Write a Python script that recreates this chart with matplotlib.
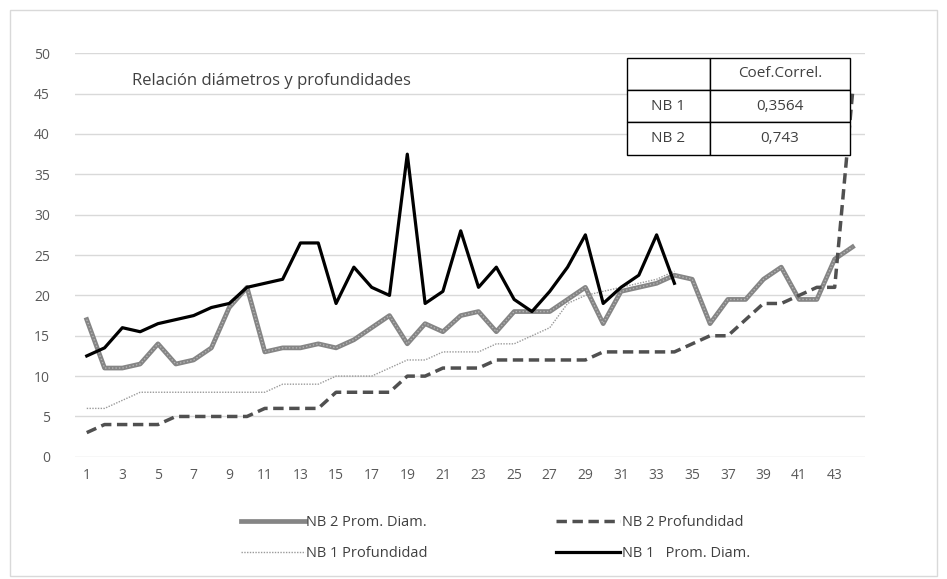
import matplotlib
matplotlib.use("Agg")
import matplotlib.pyplot as plt
from matplotlib.patches import Rectangle

plt.rcParams['font.family'] = ['Open Sans', 'DejaVu Sans']

# data
x_nb1 = list(range(1, 35))
x_nb2 = list(range(1, 45))

nb1_diam = [12.5, 13.5, 16, 15.5, 16.5, 17, 17.5, 18.5, 19, 21,
            21.5, 22, 26.5, 26.5, 19, 23.5, 21, 20, 37.5, 19,
            20.5, 28, 21, 23.5, 19.5, 18, 20.5, 23.5, 27.5, 19,
            21, 22.5, 27.5, 21.5]
nb1_prof = [6, 6, 7, 8, 8, 8, 8, 8, 8, 8,
            8, 9, 9, 9, 10, 10, 10, 11, 12, 12,
            13, 13, 13, 14, 14, 15, 16, 19, 20, 20.5,
            21, 21.5, 22, 23]
nb2_diam = [17, 11, 11, 11.5, 14, 11.5, 12, 13.5, 18.5, 21,
            13, 13.5, 13.5, 14, 13.5, 14.5, 16, 17.5, 14, 16.5,
            15.5, 17.5, 18, 15.5, 18, 18, 18, 19.5, 21, 16.5,
            20.5, 21, 21.5, 22.5, 22, 16.5, 19.5, 19.5, 22, 23.5,
            19.5, 19.5, 24.5, 26]
nb2_prof = [3, 4, 4, 4, 4, 5, 5, 5, 5, 5,
            6, 6, 6, 6, 8, 8, 8, 8, 10, 10,
            11, 11, 11, 12, 12, 12, 12, 12, 12, 13,
            13, 13, 13, 13, 14, 15, 15, 17, 19, 19,
            20, 21, 21, 45]

labels = ['NB 2 Prom. Diam.', 'NB 1 Profundidad', 'NB 2 Profundidad', 'NB 1   Prom. Diam.']
table_rows = [['', 'Coef.Correl.'], ['NB 1', '0,3564'], ['NB 2', '0,743']]

txt = '#404040'

fig = plt.figure(figsize=(9.47, 5.79), dpi=100)
ax = fig.add_axes([0.079, 0.211, 0.834, 0.697])

l_nb2d, = ax.plot(x_nb2, nb2_diam, color='#858585', lw=3.4, zorder=3)
ax.plot(x_nb2, nb2_diam, color='#b5b5b5', lw=1.0, ls=(0, (1, 1.5)), zorder=3)
l_nb1p, = ax.plot(x_nb1, nb1_prof, color='#9a9a9a', lw=1.0, ls=(0, (1, 1)), zorder=2)
l_nb2p, = ax.plot(x_nb2, nb2_prof, color='#505050', lw=2.5, ls=(0, (3, 1.6)), zorder=3)
l_nb1d, = ax.plot(x_nb1, nb1_diam, color='#000000', lw=2.3, zorder=4)

ax.set_xlim(0.33, 44.68)
ax.set_ylim(0, 50)
ax.set_yticks(range(0, 51, 5))
ax.set_xticks(range(1, 44, 2))
ax.grid(axis='y', color='#d9d9d9', lw=1)
ax.set_axisbelow(True)
for s in ax.spines.values():
    s.set_visible(False)
ax.tick_params(length=0, colors='#595959', labelsize=10, pad=8)
ax.tick_params(axis='y', pad=18)

ax.text(3.55, 46.6, 'Relación diámetros y profundidades', fontsize=12, color=txt, va='center')

# correlation table drawn in figure pixels
col_x = [627, 710, 850]
row_y = [58, 90, 122, 155]
H = 579
for r, row in enumerate(table_rows):
    for c, val in enumerate(row):
        x0, x1 = col_x[c], col_x[c + 1]
        y0, y1 = row_y[r], row_y[r + 1]
        fig.patches.append(Rectangle((x0 / 947, 1 - y1 / H), (x1 - x0) / 947, (y1 - y0) / H,
                                     transform=fig.transFigure, fill=True, fc='white',
                                     ec='black', lw=1, zorder=5))
        fig.text((x0 + x1) / 2 / 947, 1 - (y0 + y1) / 2 / H, val, ha='center', va='center',
                 fontsize=11, color=txt, zorder=6)

leg = fig.legend([l_nb2d, l_nb1p, l_nb2p, l_nb1d], labels, ncol=2, loc='lower center',
                 bbox_to_anchor=(0.523, 0.008), frameon=False, fontsize=10.5,
                 handlelength=4.4, handletextpad=0.1, columnspacing=8.8, labelspacing=1.1,
                 labelcolor=txt)

fig.patches.append(Rectangle((0.011, 0.005), 0.978, 0.978, transform=fig.transFigure,
                             fill=False, ec='#d9d9d9', lw=1))

fig.savefig('out.png', dpi=100)
